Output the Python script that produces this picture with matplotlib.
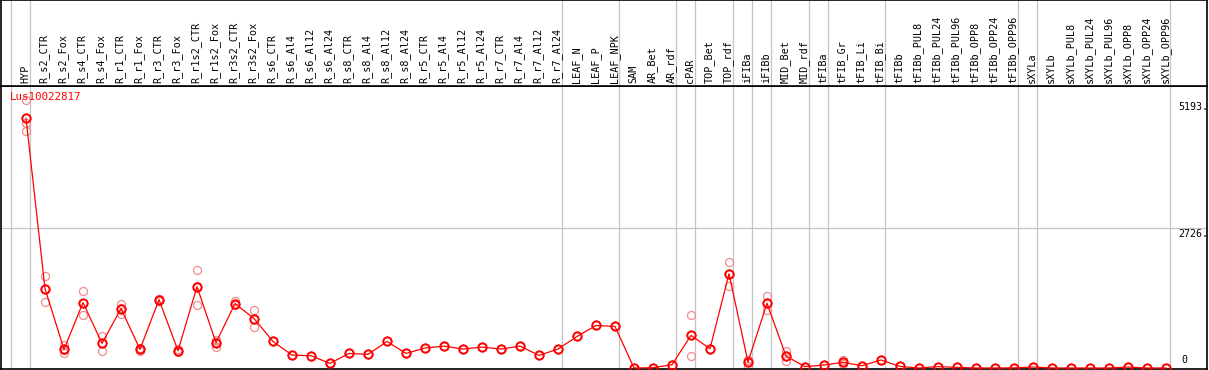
import matplotlib
matplotlib.use("Agg")
import matplotlib.pyplot as plt
from matplotlib.path import Path
from matplotlib.transforms import blended_transform_factory

# ---------------- data ----------------
categories = ["HYP", "R_s2_CTR", "R_s2_Fox", "R_s4_CTR", "R_s4_Fox", "R_r1_CTR", "R_r1_Fox",
              "R_r3_CTR", "R_r3_Fox", "R_r1s2_CTR", "R_r1s2_Fox", "R_r3s2_CTR", "R_r3s2_Fox",
              "R_s6_CTR", "R_s6_Al4", "R_s6_Al12", "R_s6_Al24", "R_s8_CTR", "R_s8_Al4",
              "R_s8_Al12", "R_s8_Al24", "R_r5_CTR", "R_r5_Al4", "R_r5_Al12", "R_r5_Al24",
              "R_r7_CTR", "R_r7_Al4", "R_r7_Al12", "R_r7_Al24", "LEAF_N", "LEAF_P", "LEAF_NPK",
              "SAM", "AR_Bet", "AR_rdf", "cPAR", "TOP_Bet", "TOP_rdf", "iFIBa", "iFIBb",
              "MID_Bet", "MID_rdf", "tFIBa", "tFIB_Gr", "tFIB_Li", "tFIB_Bi", "tFIBb",
              "tFIBb_PUL8", "tFIBb_PUL24", "tFIBb_PUL96", "tFIBb_OPP8", "tFIBb_OPP24",
              "tFIBb_OPP96", "sXYLa", "sXYLb", "sXYLb_PUL8", "sXYLb_PUL24", "sXYLb_PUL96",
              "sXYLb_OPP8", "sXYLb_OPP24", "sXYLb_OPP96"]

means = [4846, 1540, 361, 1270, 477, 1154, 361, 1328, 335, 1579, 490, 1250, 960,
         515, 251, 238, 90, 283, 264, 515, 283, 387, 425, 367, 406, 367, 425, 245, 367,
         612, 825, 806, 0, 5, 64, 632, 373, 1830, 116, 1256, 232, 26, 58, 110, 45, 155,
         30, 0, 26, 13, 0, 0, 3, 19, 0, 0, 0, 0, 19, 0, 0]

replicates = [[5193, 4761, 4600], [1792, 1289, 1540], [445, 296, 345], [1502, 1038, 1270],
              [612, 335, 480], [1250, 1044, 1160], [387, 335, 360], [1347, 1295, 1330],
              [360, 310, 335], [1908, 1224, 1600], [541, 412, 500], [1295, 1230, 1250],
              [1134, 786, 960], [515], [251], [238], [90], [283], [264], [515], [283],
              [387], [425], [367], [406], [367], [425], [245], [367], [612], [825], [806],
              [0], [5], [64], [1019, 238, 632], [373], [2062, 1598, 1830], [155, 39, 155],
              [1392, 1121, 1256], [329, 135, 232], [26], [58], [150, 80, 110], [45], [155],
              [30], [0], [26], [13], [0], [0], [3], [19], [0], [0], [0], [0], [19], [0], [0]]

group_starts = [0, 1, 29, 32, 35, 36, 38, 39, 40, 42, 43, 46, 53, 54, 61]
y_ticks = [5193, 2726, 0]
gene_id = "Lus10022817"

# ---------------- layout (pixels) ----------------
W, H = 1209, 370
fig = plt.figure(figsize=(W / 100, H / 100), dpi=100)

def fx(p):
    return p / W

def fy(p):  # p measured from top
    return 1 - p / H

left_px, right_px = 1, 1207
sep_px, bottom_px = 86, 369
x0_px, dx_px = 26, 19          # pixel of first category, spacing
zero_px, per_px = 368, 2726 / 140.5

xlim = ((left_px - x0_px) / dx_px, (right_px - x0_px) / dx_px)
ylim = ((zero_px - bottom_px) * per_px, (zero_px - sep_px) * per_px)

ax = fig.add_axes([fx(left_px), fy(bottom_px), fx(right_px - left_px), (bottom_px - sep_px) / H])
hx = fig.add_axes([fx(left_px), fy(sep_px), fx(right_px - left_px), sep_px / H - 0.001])

grid_col = "#c4c4c4"
font = "DejaVu Sans Mono"

for a in (ax, hx):
    a.set_xlim(*xlim)
    a.set_xticks([])
    a.set_yticks([])
    for s in a.spines.values():
        s.set_color("black")
        s.set_linewidth(1.2)
    for g in group_starts:
        a.axvline(g - 0.8, color=grid_col, lw=0.9, zorder=0)

ax.set_ylim(*ylim)
hx.set_ylim(0, 1)

# horizontal grid line at the middle tick
ax.axhline(y_ticks[1], color=grid_col, lw=0.9, zorder=0)

# header labels
for i, c in enumerate(categories):
    hx.text(i - 0.05, 0.035, c, rotation=90, ha="center", va="bottom",
            fontsize=7.3, family=font, color="black")

x = list(range(len(categories)))

# replicates
for i, reps in enumerate(replicates):
    ax.plot([i] * len(reps), reps, linestyle="none", marker="o", markersize=5.8,
            markerfacecolor="none", markeredgecolor="#f08c8c", markeredgewidth=0.9, zorder=2)

# small tick marks around mean circles
r0 = 0.8
tick_path = Path([(0, r0), (0, 1), (0, -r0), (0, -1), (r0, 0), (1, 0), (-r0, 0), (-1, 0)],
                 [Path.MOVETO, Path.LINETO] * 4)

# mean line and markers
ax.plot(x, means, color="#ff0000", lw=0.9, zorder=3)
ax.plot(x, means, linestyle="none", marker="o", markersize=6.0, markerfacecolor="none",
        markeredgecolor="#ff0000", markeredgewidth=1.4, zorder=4)
ax.plot(x, means, linestyle="none", marker=tick_path, markersize=7.6, markerfacecolor="none",
        markeredgecolor="#ff0000", markeredgewidth=0.6, zorder=4)

# y tick labels on the right
tr = blended_transform_factory(ax.transAxes, ax.transData)
for v in y_ticks:
    lab = f"{v}." if v else "0"
    if v:
        ax.text((1178 - left_px) / (right_px - left_px), v - 1.5 * per_px, lab, transform=tr,
                ha="left", va="top", fontsize=7.2, family=font, color="black")
    else:
        ax.text((1181 - left_px) / (right_px - left_px), v + 3 * per_px, lab, transform=tr,
                ha="left", va="bottom", fontsize=7.2, family=font, color="black")

fig.text(fx(10), fy(97), gene_id, ha="left", va="center", fontsize=7.8,
         family=font, color="#ff0000")

fig.savefig("out.png", dpi=100)
